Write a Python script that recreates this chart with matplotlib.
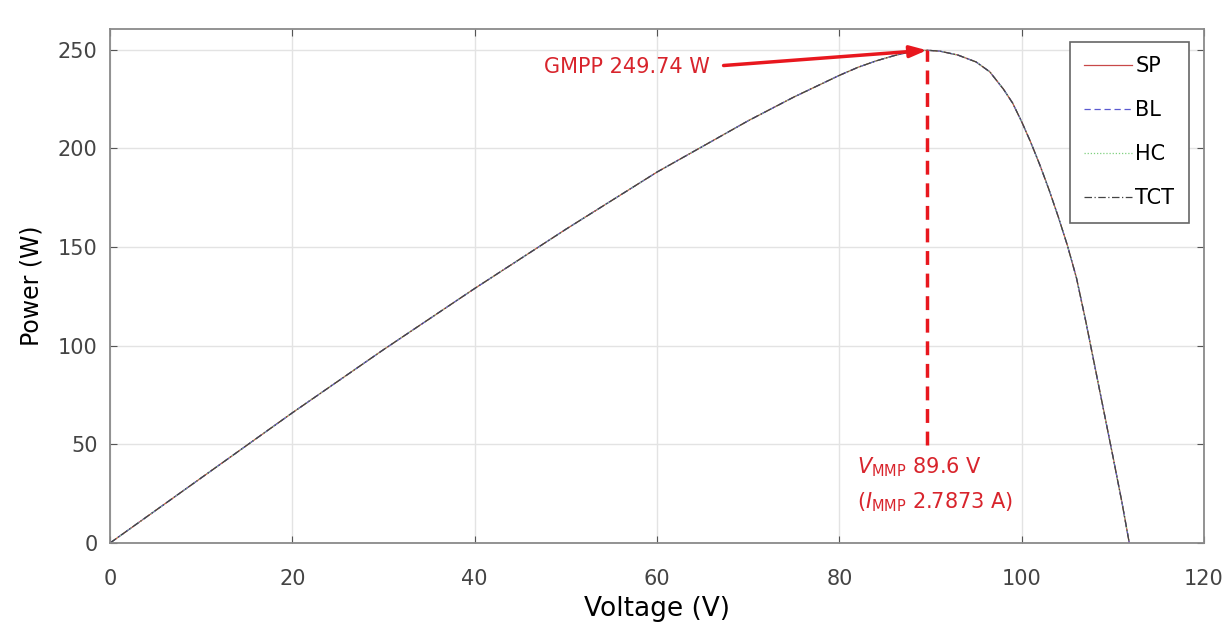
import matplotlib
matplotlib.use("Agg")
import matplotlib.pyplot as plt

# P-V curve (all four configurations coincide)
voltage = [0, 10, 20, 30, 40, 50, 60, 65, 70, 75, 80, 82, 84, 86, 88, 89.6,
           91, 93, 95, 96.5, 98, 99, 100, 101, 102, 103, 104, 105, 106,
           107, 108, 109, 110, 111, 111.8]
power = [0, 33, 66, 98, 129, 159, 188, 201, 214, 226, 237, 241, 244.3, 247,
         249.2, 249.74, 249.3, 247.3, 243.8, 238.8, 230, 223, 213.5, 203,
         191.5, 179, 165.5, 151, 134.5, 113, 90, 67, 44, 20.5, 0]

series = ["SP", "BL", "HC", "TCT"]
colors = ["#c84848", "#5a5ad0", "#7fd07f", "#444444"]
styles = ["-", (0, (5, 3)), (0, (1, 1.5)), (0, (6, 2, 1, 2))]

gmpp_v, gmpp_p, impp = 89.6, 249.74, 2.7873

fig = plt.figure(figsize=(12.32, 6.32), dpi=100)
ax = fig.add_axes([0.0893, 0.1408, 0.888, 0.8133])

for name, c, ls in zip(series, colors, styles):
    ax.plot(voltage, power, color=c, linestyle=ls, linewidth=0.9, label=name)

red = "#e8171e"
ax.plot([gmpp_v, gmpp_v], [49.5, gmpp_p], color=red, linestyle=(0, (4, 2.5)),
        linewidth=2.5)
ax.annotate("", xy=(gmpp_v, gmpp_p), xytext=(67.3, 242),
            arrowprops=dict(arrowstyle="-|>,head_length=1.0,head_width=0.35",
                            color=red, lw=2.5, shrinkA=0, shrinkB=0))
txt_col = "#d8242c"
ax.text(65.8, 241, f"GMPP {gmpp_p} W", color=txt_col, fontsize=15,
        ha="right", va="center")
ax.text(81.9, 38.5, r"$V_{\mathrm{MMP}}$" + f" {gmpp_v} V", color=txt_col,
        fontsize=15, ha="left", va="center")
ax.text(81.9, 20.5, r"($I_{\mathrm{MMP}}$" + f" {impp} A)", color=txt_col,
        fontsize=15, ha="left", va="center")

ax.set_xlim(0, 120)
ax.set_ylim(0, 260.5)
ax.set_xticks(range(0, 121, 20))
ax.set_yticks(range(0, 251, 50))
ax.grid(True, color="#e3e3e3", linewidth=1.0)
ax.set_axisbelow(True)
ax.tick_params(direction="in", top=True, right=True, labelsize=15,
               labelcolor="#444444", color="#555555", length=5, pad=9)
ax.tick_params(axis="x", pad=19)
for s in ax.spines.values():
    s.set_color("#8a8a8a")
    s.set_linewidth(1.3)

ax.set_xlabel("Voltage (V)", fontsize=19, labelpad=5)
ax.set_ylabel("Power (W)", fontsize=17, labelpad=10)

leg = ax.legend(loc="upper right", fontsize=15, fancybox=False,
                edgecolor="#666666", framealpha=1, labelspacing=1.15,
                handlelength=2.3, handletextpad=0.15, borderpad=0.7,
                borderaxespad=0, bbox_to_anchor=(0.986, 0.975))
leg.get_frame().set_linewidth(1.2)

fig.savefig("out.png", dpi=100)
